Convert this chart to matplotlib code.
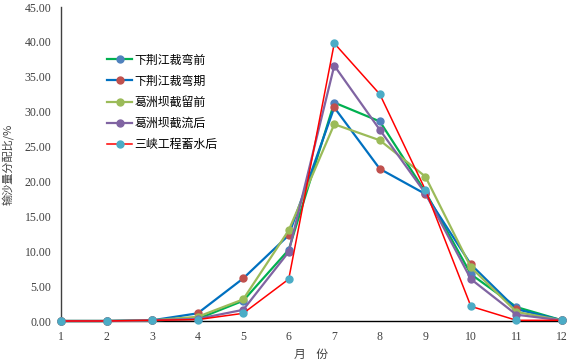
#!/usr/bin/env python3
"""Monthly sediment-load distribution for five periods."""

import matplotlib

matplotlib.use("Agg")

import matplotlib.pyplot as plt

plt.rcParams["font.family"] = ["Noto Sans CJK SC", "DejaVu Sans"]

months = list(range(1, 13))
series_names = ["下荆江裁弯前", "下荆江裁弯期", "葛洲坝截留前", "葛洲坝截流后", "三峡工程蓄水后"]

before_cutoff = [0.0, 0.0, 0.1, 0.3, 2.9, 10.2, 31.3, 28.6, 18.5, 6.7, 2.0, 0.1]
during_cutoff = [0.0, 0.0, 0.1, 1.1, 6.1, 12.3, 30.6, 21.8, 18.2, 8.1, 1.7, 0.1]
before_gezhouba = [0.0, 0.0, 0.1, 0.6, 3.1, 13.0, 28.2, 25.9, 20.7, 7.7, 1.3, 0.1]
after_gezhouba = [0.0, 0.0, 0.1, 0.3, 1.6, 9.9, 36.6, 27.4, 18.3, 6.0, 0.9, 0.1]
after_tgd = [0.0, 0.0, 0.1, 0.2, 1.1, 6.0, 39.8, 32.5, 18.8, 2.1, 0.1, 0.1]

y_ticks = [0, 5, 10, 15, 20, 25, 30, 35, 40, 45]

STYLES = [
    ("#00B050", "#4F81BD", 1.6),
    ("#0070C0", "#C0504D", 1.6),
    ("#9BBB59", "#9BBB59", 1.6),
    ("#8064A2", "#8064A2", 1.6),
    ("#FF0000", "#4BACC6", 1.1),
]


def main() -> None:
    fig = plt.figure(figsize=(5.67, 3.64), dpi=100)
    ax = fig.add_axes((61 / 567, 43 / 364, 501 / 567, 314 / 364))

    data = [before_cutoff, during_cutoff, before_gezhouba, after_gezhouba, after_tgd]
    for name, values, (line_c, mark_c, lw) in zip(series_names, data, STYLES):
        ax.plot(months, values, color=line_c, linewidth=lw, marker="o",
                markersize=5, markerfacecolor=mark_c, markeredgecolor=mark_c,
                label=name, clip_on=False, zorder=3)

    ax.set_xlim(1, 12)
    ax.set_ylim(0, 45)
    ax.set_xticks(months)
    ax.set_yticks(y_ticks)
    ax.set_yticklabels([f"{v:.2f}" for v in y_ticks], family="Liberation Serif", fontsize=8.5, color="#404040")
    ax.set_xticklabels([str(m) for m in months], family="Liberation Serif", fontsize=8.5, color="#404040")
    ax.tick_params(axis="both", length=0, pad=7)

    for side in ("top", "right"):
        ax.spines[side].set_visible(False)
    ax.spines["left"].set_color("#404040")
    ax.spines["bottom"].set_color("black")
    ax.spines["left"].set_linewidth(1.0)
    ax.spines["bottom"].set_linewidth(1.0)

    ax.set_ylabel("输沙量分配比/%", fontsize=8, color="#404040", labelpad=8)
    ax.set_xlabel("月    份", fontsize=8.5, color="#404040", labelpad=4)

    ax.legend(loc="upper left", bbox_to_anchor=(0.092, 0.852), frameon=False,
              fontsize=8.6, handlelength=2.1, handletextpad=0.2, labelspacing=0.68,
              borderaxespad=0, borderpad=0)

    fig.savefig("out.png", dpi=100)
    plt.close(fig)


if __name__ == "__main__":
    main()
